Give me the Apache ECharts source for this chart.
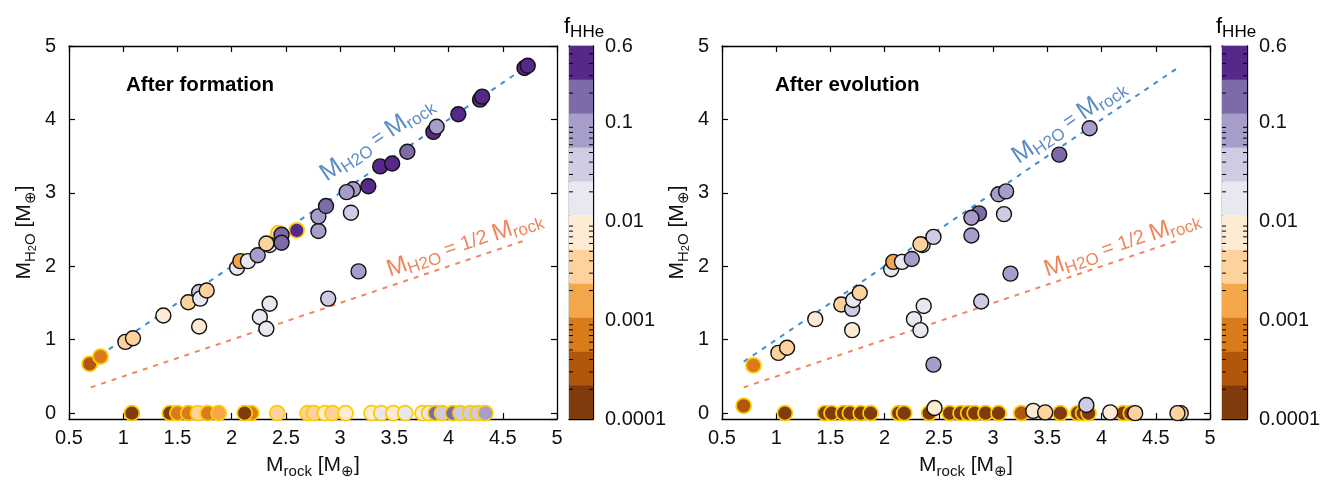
<!DOCTYPE html>
<html>
<head>
<meta charset="utf-8">
<script src="https://cdn.jsdelivr.net/npm/echarts@6/dist/echarts.min.js"></script>
<style>
  html, body { margin: 0; padding: 0; background: #fff; }
  #chart { width: 1323px; height: 484px; }
</style>
</head>
<body>
<div id="chart"></div>
<script>
// Rock mass, water mass and H/He mass fraction of every simulated planet.
// The "rim" lists flag planets outlined in gold (1) instead of black (0).

// ---- After formation ----
const formRock = [
  0.69, 0.79, 1.02, 1.09, 1.37, 1.60, 1.70, 1.71, 1.77, 1.70, 2.05, 2.08, 2.15, 2.24,
  2.35, 2.32, 2.43, 2.46, 2.46, 2.60, 2.80, 2.80, 2.87, 3.12, 3.06, 3.10, 3.26, 3.37,
  3.48, 3.62, 3.86, 3.89, 4.09, 4.29, 4.31, 4.70, 4.73, 3.17, 2.89, 2.35, 2.26, 2.32,
  1.08, 1.43, 1.50, 1.60, 1.69, 1.78, 1.88, 2.18, 2.12, 2.42, 2.70, 2.76, 2.86, 2.93,
  3.05, 3.29, 3.38, 3.49, 3.60, 3.76, 3.82, 3.88, 3.94, 4.04, 4.11, 4.20, 4.27, 4.34
];
const formWater = [
  0.67, 0.77, 0.97, 1.02, 1.33, 1.51, 1.65, 1.56, 1.67, 1.18, 1.98, 2.07, 2.07, 2.15,
  2.29, 2.31, 2.45, 2.43, 2.32, 2.49, 2.48, 2.68, 2.82, 3.05, 3.01, 2.73, 3.09, 3.36,
  3.40, 3.56, 3.83, 3.90, 4.07, 4.27, 4.31, 4.70, 4.73, 1.93, 1.56, 1.49, 1.31, 1.15,
  0, 0, 0, 0, 0, 0, 0, 0, 0, 0, 0, 0, 0, 0,
  0, 0, 0, 0, 0, 0, 0, 0, 0, 0, 0, 0, 0, 0
];
const formHHe = [
  0.0003, 0.0007, 0.0035, 0.0035, 0.008, 0.0035, 0.03, 0.017, 0.0035, 0.008, 0.017, 0.0016, 0.017, 0.08,
  0.017, 0.0035, 0.0035, 0.18, 0.18, 0.4, 0.08, 0.08, 0.18, 0.08, 0.08, 0.04, 0.4, 0.4,
  0.4, 0.18, 0.4, 0.08, 0.4, 0.4, 0.4, 0.4, 0.4, 0.08, 0.04, 0.017, 0.017, 0.017,
  0.00015, 0.00015, 0.0007, 0.0007, 0.0035, 0.0007, 0.0016, 0.0007, 0.00015, 0.0035, 0.0035, 0.0035, 0.008, 0.0035,
  0.008, 0.008, 0.017, 0.008, 0.017, 0.008, 0.017, 0.18, 0.04, 0.18, 0.04, 0.04, 0.04, 0.08
];
const formRim = [
  1, 1, 0, 0, 0, 0, 0, 0, 0, 0, 0, 0, 0, 0,
  0, 0, 1, 0, 0, 1, 0, 0, 0, 0, 0, 0, 0, 0,
  0, 0, 0, 0, 0, 0, 0, 0, 0, 0, 0, 0, 0, 0,
  1, 1, 1, 1, 1, 1, 1, 1, 1, 1, 1, 1, 1, 1,
  1, 1, 1, 1, 1, 1, 1, 1, 1, 1, 1, 1, 1, 1
];

// ---- After evolution ----
const evolRock = [
  0.70, 0.79, 1.02, 1.10, 1.36, 1.60, 1.70, 1.71, 1.77, 1.70, 2.06, 2.08, 2.16, 2.25,
  2.35, 2.33, 2.45, 2.80, 2.87, 2.80, 3.05, 3.12, 3.10, 3.61, 3.89, 3.16, 2.89, 2.36,
  2.27, 2.33, 2.45,
  1.08, 1.45, 1.51, 1.62, 1.68, 1.78, 1.87, 2.13, 2.18, 2.41, 2.60, 2.70, 2.77, 2.83,
  2.93, 3.05, 3.26, 3.62, 3.78, 3.83, 3.88, 4.20, 4.27,
  2.46, 3.37, 3.48, 3.86, 4.08, 4.31, 4.73, 4.70
];
const evolWater = [
  0.10, 0.65, 0.82, 0.89, 1.28, 1.48, 1.42, 1.54, 1.64, 1.13, 1.96, 2.06, 2.06, 2.10,
  2.29, 2.30, 2.40, 2.42, 2.72, 2.66, 2.98, 3.02, 2.71, 3.52, 3.88, 1.90, 1.52, 1.46,
  1.28, 1.13, 0.66,
  0, 0, 0, 0, 0, 0, 0, 0, 0, 0, 0, 0, 0, 0,
  0, 0, 0, 0, 0, 0, 0, 0, 0,
  0.07, 0.03, 0.01, 0.11, 0.01, 0, 0, 0
];
const evolHHe = [
  0.0003, 0.0007, 0.0035, 0.0035, 0.008, 0.0035, 0.04, 0.017, 0.0035, 0.008, 0.017, 0.0016, 0.017, 0.08,
  0.017, 0.0035, 0.04, 0.08, 0.18, 0.08, 0.08, 0.08, 0.04, 0.18, 0.08, 0.08, 0.04, 0.017,
  0.017, 0.017, 0.08,
  0.00015, 0.00015, 0.00015, 0.00015, 0.00015, 0.00015, 0.00015, 0.00015, 0.00015, 0.00015, 0.00015, 0.00015, 0.00015, 0.00015,
  0.00015, 0.00015, 0.0003, 0.00015, 0.00015, 0.00015, 0.00015, 0.00015, 0.00015,
  0.008, 0.008, 0.0035, 0.04, 0.008, 0.0035, 0.0035, 0.0035
];
const evolRim = [
  1, 1, 0, 0, 0, 0, 0, 0, 0, 0, 0, 0, 0, 0,
  0, 0, 0, 0, 0, 0, 0, 0, 0, 0, 0, 0, 0, 0,
  0, 0, 0,
  1, 1, 1, 1, 1, 1, 1, 1, 1, 1, 1, 1, 1, 1,
  1, 1, 1, 1, 1, 1, 1, 1, 1,
  0, 0, 0, 0, 0, 0, 0, 0
];

// Reference relations drawn as dashed lines (end points)
const equalLine = [[0.7, 0.7], [4.72, 4.72]];
const halfLine = [[0.7, 0.35], [4.72, 2.36]];

// Colour bar range and its labelled values
const fMin = 0.0001;
const fMax = 0.6;
const colorbarLabels = [0.0001, 0.001, 0.01, 0.1, 0.6];

// ---- styling ----
const PALETTE = ['#7f3b0b', '#b0570c', '#d97b1a', '#f4a64a', '#fdd29d', '#fdebd3',
                 '#e8e8f0', '#cfcbe3', '#a69dca', '#7d6ba9', '#56288a'];
const FONT = '"Liberation Sans", Arial, Helvetica, sans-serif';
const BLUE = '#3f8fcf';
const BLUE_TEXT = '#5b8bc6';
const ORANGE = '#f4845c';
const ORANGE_TEXT = '#f0845c';
const GOLD = '#ffcc00';

const logMin = Math.log10(fMin);
const logMax = Math.log10(fMax);
const nBands = PALETTE.length;
const bandStep = (logMax - logMin) / nBands;

function bandColor(f) {
  let i = Math.floor((Math.log10(f) - logMin) / bandStep);
  i = Math.max(0, Math.min(nBands - 1, i));
  return PALETTE[i];
}

const chart = echarts.init(document.getElementById('chart'));

const grids = [
  { left: 69, top: 46, width: 488, height: 373, outerBoundsMode: 'none', containLabel: false },
  { left: 569, top: 46, width: 24, height: 373, outerBoundsMode: 'none', containLabel: false },
  { left: 722, top: 46, width: 488, height: 373, outerBoundsMode: 'none', containLabel: false },
  { left: 1222, top: 46, width: 25, height: 373, outerBoundsMode: 'none', containLabel: false }
];

const frameLine = { show: true, onZero: false, lineStyle: { color: '#000', width: 1.3 } };
const tickStyle = { show: true, inside: true, length: 6, lineStyle: { color: '#000', width: 1.2 } };
const labelStyle = { color: '#111', fontFamily: FONT, fontSize: 20 };

const subRich = {
  m: { fontFamily: FONT, fontSize: 21, lineHeight: 27, color: '#111' },
  s: { fontFamily: FONT, fontSize: 15, lineHeight: 15, verticalAlign: 'bottom', color: '#111' },
  ss: { fontFamily: FONT, fontSize: 11, lineHeight: 7, verticalAlign: 'bottom', color: '#111' }
};

const xAxes = [];
const yAxes = [];

function mainAxes(gi) {
  xAxes.push({
    gridIndex: gi, type: 'value', position: 'bottom', min: 0.5, max: 5, interval: 0.5,
    axisLine: frameLine, axisTick: tickStyle, splitLine: { show: false },
    axisLabel: Object.assign({ margin: 9 }, labelStyle),
    name: '{m|M}{s|rock}{m| [M}{s|⊕}{m|]}', nameLocation: 'middle', nameGap: 33,
    nameTextStyle: { rich: subRich }
  });
  xAxes.push({
    gridIndex: gi, type: 'value', position: 'top', min: 0.5, max: 5, interval: 0.5,
    axisLine: frameLine, axisTick: tickStyle, splitLine: { show: false }, axisLabel: { show: false }
  });
  yAxes.push({
    gridIndex: gi, type: 'value', position: 'left', min: -0.08, max: 5, splitNumber: 5,
    axisLine: frameLine, axisTick: tickStyle, splitLine: { show: false },
    axisLabel: Object.assign({ margin: 13, showMinLabel: false }, labelStyle),
    name: '{m|M}{s|H}{ss|2}{s|O}{m| [M}{s|⊕}{m|]}', nameLocation: 'middle', nameGap: 31, nameRotate: 90,
    nameTextStyle: { rich: subRich }
  });
  yAxes.push({
    gridIndex: gi, type: 'value', position: 'right', min: -0.08, max: 5, splitNumber: 5,
    axisLine: frameLine, axisTick: tickStyle, splitLine: { show: false }, axisLabel: { show: false }
  });
}

function colorbarAxes(gi) {
  const cbTick = { show: true, inside: true, length: 5, lineStyle: { color: '#000', width: 1 } };
  xAxes.push({ gridIndex: gi, type: 'value', position: 'bottom', min: 0, max: 1,
    axisLine: frameLine, axisTick: { show: false }, axisLabel: { show: false }, splitLine: { show: false } });
  xAxes.push({ gridIndex: gi, type: 'value', position: 'top', min: 0, max: 1,
    axisLine: frameLine, axisTick: { show: false }, axisLabel: { show: false }, splitLine: { show: false } });
  yAxes.push({ gridIndex: gi, type: 'value', position: 'left', min: logMin, max: logMax, interval: 1,
    axisLine: frameLine, axisTick: cbTick, axisLabel: { show: false }, splitLine: { show: false } });
  yAxes.push({ gridIndex: gi, type: 'value', position: 'right', min: logMin, max: logMax, interval: 1,
    axisLine: frameLine, axisTick: cbTick, splitLine: { show: false },
    axisLabel: Object.assign({
      margin: 12, showMinLabel: true, showMaxLabel: true,
      formatter: function (v) {
        let best = colorbarLabels[0];
        colorbarLabels.forEach(function (c) { if (Math.abs(Math.log10(c) - v) < Math.abs(Math.log10(best) - v)) best = c; });
        return String(best);
      }
    }, labelStyle)
  });
}

mainAxes(0); colorbarAxes(1); mainAxes(2); colorbarAxes(3);

function scatterSeries(rock, water, hhe, rim, axisBase) {
  const gold = [], black = [];
  for (let i = 0; i < rock.length; i++) {
    const item = {
      value: [rock[i], water[i], hhe[i]],
      itemStyle: { color: bandColor(hhe[i]), opacity: 1,
        borderColor: rim[i] ? GOLD : '#111', borderWidth: rim[i] ? 1.8 : 1.4 }
    };
    (rim[i] ? gold : black).push(item);
  }
  const common = { type: 'scatter', xAxisIndex: axisBase, yAxisIndex: axisBase, symbol: 'circle',
    symbolSize: 15, silent: true, clip: false, itemStyle: { opacity: 1 } };
  return [
    Object.assign({ data: gold, z: 3 }, common),
    Object.assign({ data: black, z: 4 }, common)
  ];
}

function guideSeries(axisBase) {
  return [
    { type: 'line', xAxisIndex: axisBase, yAxisIndex: axisBase, data: equalLine, symbol: 'none', silent: true, z: 1,
      lineStyle: { color: BLUE, width: 2, type: [5, 6] } },
    { type: 'line', xAxisIndex: axisBase, yAxisIndex: axisBase, data: halfLine, symbol: 'none', silent: true, z: 1,
      lineStyle: { color: ORANGE, width: 2, type: [5, 6] } }
  ];
}

// colour bar bands [lower log f, upper log f, palette index]
const bands = PALETTE.map(function (c, i) { return [logMin + i * bandStep, logMin + (i + 1) * bandStep, i]; });
// log-spaced minor ticks of the colour bar
const minorTicks = [];
for (let k = -4; k <= -1; k++) {
  for (let m = 2; m <= 9; m++) {
    const v = Math.log10(m * Math.pow(10, k));
    if (v < logMax) minorTicks.push([v]);
  }
}

function colorbarSeries(axisBase) {
  return [
    { type: 'custom', xAxisIndex: axisBase, yAxisIndex: axisBase, data: bands, silent: true, z: 1,
      renderItem: function (params, api) {
        const p0 = api.coord([0, api.value(1)]);
        const p1 = api.coord([1, api.value(0)]);
        return { type: 'rect', shape: { x: p0[0], y: p0[1], width: p1[0] - p0[0], height: p1[1] - p0[1] },
          style: { fill: PALETTE[api.value(2)] } };
      } },
    { type: 'custom', xAxisIndex: axisBase, yAxisIndex: axisBase, data: minorTicks, silent: true, z: 5,
      renderItem: function (params, api) {
        const l = api.coord([0, api.value(0)]);
        const r = api.coord([1, api.value(0)]);
        return { type: 'group', children: [
          { type: 'line', shape: { x1: l[0], y1: l[1], x2: l[0] + 4, y2: l[1] }, style: { stroke: '#000', lineWidth: 1 } },
          { type: 'line', shape: { x1: r[0], y1: r[1], x2: r[0] - 4, y2: r[1] }, style: { stroke: '#000', lineWidth: 1 } }
        ] };
      } }
  ];
}

const series = [].concat(
  guideSeries(0), scatterSeries(formRock, formWater, formHHe, formRim, 0), colorbarSeries(2),
  guideSeries(4), scatterSeries(evolRock, evolWater, evolHHe, evolRim, 4), colorbarSeries(6)
);

chart.setOption({
  animation: false,
  backgroundColor: '#fff',
  grid: grids,
  xAxis: xAxes,
  yAxis: yAxes,
  series: series
});

// Text annotations placed after the axes exist
function relationLabel(axisIndex, line, at, text, color, mainSize, subSize) {
  const a = chart.convertToPixel({ xAxisIndex: axisIndex, yAxisIndex: axisIndex }, line[0]);
  const b = chart.convertToPixel({ xAxisIndex: axisIndex, yAxisIndex: axisIndex }, line[1]);
  const angle = Math.atan2(a[1] - b[1], b[0] - a[0]);
  const p = chart.convertToPixel({ xAxisIndex: axisIndex, yAxisIndex: axisIndex }, at);
  return {
    type: 'text', x: p[0], y: p[1], rotation: angle, z: 10, silent: true,
    style: {
      text: text, align: 'center', verticalAlign: 'middle',
      rich: {
        m: { fontFamily: FONT, fontSize: mainSize, lineHeight: mainSize + 4, fill: color, color: color },
        s: { fontFamily: FONT, fontSize: subSize, lineHeight: subSize, verticalAlign: 'bottom', fill: color, color: color },
        e: { fontFamily: FONT, fontSize: subSize + 3, lineHeight: mainSize + 4, fill: color, color: color }
      }
    }
  };
}

function plainText(x, y, text, size, weight) {
  return { type: 'text', x: x, y: y, z: 10, silent: true,
    style: { text: text, fontFamily: FONT, fontSize: size, fontWeight: weight, fill: '#000', align: 'left', verticalAlign: 'middle' } };
}

function cbTitle(x, y) {
  return { type: 'text', x: x, y: y, z: 10, silent: true,
    style: { text: '{f|f}{s|HHe}', align: 'left', verticalAlign: 'middle',
      rich: {
        f: { fontFamily: FONT, fontSize: 22, lineHeight: 28, fill: '#000' },
        s: { fontFamily: FONT, fontSize: 17, lineHeight: 17, verticalAlign: 'bottom', fill: '#000' }
      } } };
}

const eqText = '{m|M}{s|H2O}{e| = }{m|M}{s|rock}';
const halfText = '{m|M}{s|H2O}{e| = 1/2 }{m|M}{s|rock}';

chart.setOption({
  graphic: [
    plainText(126, 85, 'After formation', 20.5, 'bold'),
    plainText(775, 85, 'After evolution', 20.5, 'bold'),
    cbTitle(564, 27),
    cbTitle(1216, 27),
    relationLabel(0, equalLine, [3.34, 3.73], eqText, BLUE_TEXT, 25, 17),
    relationLabel(4, equalLine, [3.70, 3.97], eqText, BLUE_TEXT, 25, 17),
    relationLabel(0, halfLine, [4.15, 2.30], halfText, ORANGE_TEXT, 24, 17),
    relationLabel(4, halfLine, [4.19, 2.30], halfText, ORANGE_TEXT, 24, 17)
  ]
});
</script>
</body>
</html>
